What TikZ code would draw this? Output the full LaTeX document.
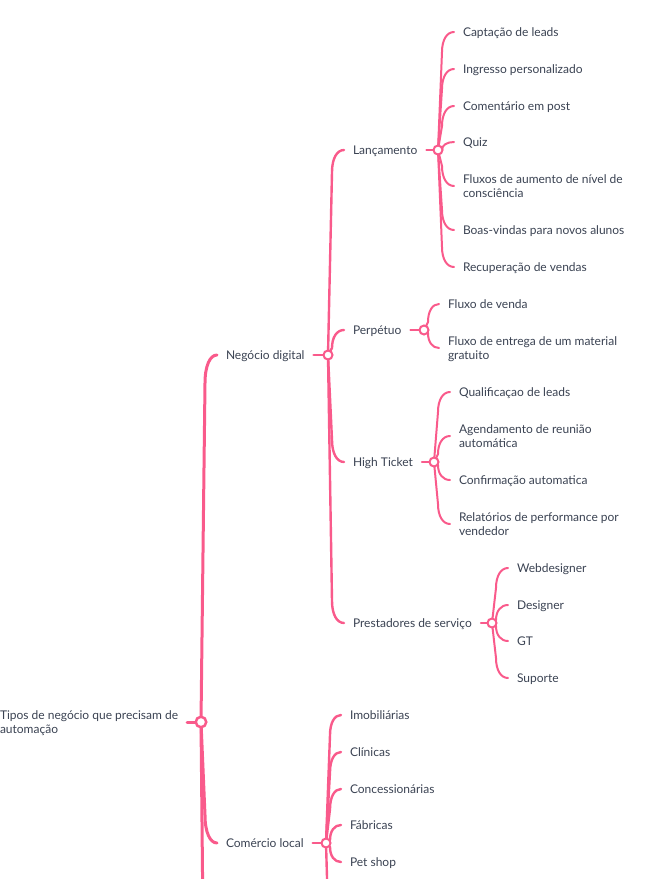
\documentclass[tikz,border=0pt]{standalone}
\usepackage{fontspec}
\setmainfont{Lato}
\usetikzlibrary{calc}
\definecolor{pk}{HTML}{F95A8B}
\definecolor{tx}{HTML}{3A4252}
\pgfdeclarelayer{bg}
\pgfsetlayers{bg,main}
\newcommand\T[1]{\rule[-1pt]{0pt}{11pt}\smash{#1}}
\tikzset{
  lbl/.style={anchor=west, inner sep=0pt, outer xsep=9pt, text=tx,
    font=\fontsize{12}{14}\selectfont, align=left},
  knot/.style={circle, draw=pk, fill=white, line width=2pt, minimum size=9pt, inner sep=0pt},
  rootknot/.style={knot, minimum size=10.5pt, line width=2.5pt},
  br/.style={draw=pk, line cap=round, line join=round},
  wa/.style={line width=3pt},
  wb/.style={line width=2.4pt},
  wc/.style={line width=2pt},
}
% #1 style, #2 parent knot, #3 target point, #4 bend length (signed)
\newcommand\conn[4][]{\draw[br,#1] (#2.center) -- ($(#2.center |- #3)+(4,#4)$)
  .. controls ($(#2.center |- #3)+(4,0.4*#4)$) and ($($(#2.center |- #3)+(4,0)$)!0.4!(#3)$) .. (#3);}
\begin{document}
\begin{tikzpicture}[x=1pt,y=-1pt]
\useasboundingbox (0,0) rectangle (661,879);

% ---------- knots ----------
\node[rootknot] (root) at (201,722) {};
\node[knot] (neg) at (328,355) {};
\node[knot] (com) at (326,843) {};
\node[knot] (lan) at (438,150) {};
\node[knot] (per) at (424,330) {};
\node[knot] (hti) at (434,462) {};
\node[knot] (pre) at (492,623) {};

% ---------- labels ----------
\node[lbl] (root-t) at (-9,722) {\T{Tipos de negócio que precisam de}\\\T{automação}};
\node[lbl] (neg-t) at (217,355) {\T{Negócio digital}};
\node[lbl] (com-t) at (217,843) {\T{Comércio local}};

\node[lbl] (lan-t) at (344,150) {\T{Lançamento}};
\node[lbl] (per-t) at (344,330) {\T{Perpétuo}};
\node[lbl] (hti-t) at (344,462) {\T{High Ticket}};
\node[lbl] (pre-t) at (344,623) {\T{Prestadores de serviço}};

\node[lbl] (cap) at (454,32) {\T{Captação de leads}};
\node[lbl] (ing) at (454,69) {\T{Ingresso personalizado}};
\node[lbl] (cmt) at (454,106) {\T{Comentário em post}};
\node[lbl] (quiz) at (454,142) {\T{Quiz}};
\node[lbl] (flx) at (454,186) {\T{Fluxos de aumento de nível de}\\\T{consciência}};
\node[lbl] (boas) at (454,230) {\T{Boas-vindas para novos alunos}};
\node[lbl] (rec) at (454,267) {\T{Recuperação de vendas}};

\node[lbl] (fv) at (439,304) {\T{Fluxo de venda}};
\node[lbl] (fe) at (439,348) {\T{Fluxo de entrega de um material}\\\T{gratuito}};

\node[lbl] (qual) at (450,392) {\T{Qualificaçao de leads}};
\node[lbl] (agen) at (450,436) {\T{Agendamento de reunião}\\\T{automática}};
\node[lbl] (conf) at (450,480) {\T{Confirmação automatica}};
\node[lbl] (rel) at (450,524) {\T{Relatórios de performance por}\\\T{vendedor}};

\node[lbl] (web) at (508,568) {\T{Webdesigner}};
\node[lbl] (des) at (508,605) {\T{Designer}};
\node[lbl] (gt) at (508,641) {\T{GT}};
\node[lbl] (sup) at (508,678) {\T{Suporte}};

\node[lbl] (imo) at (341,715) {\T{Imobiliárias}};
\node[lbl] (cli) at (341,752) {\T{Clínicas}};
\node[lbl] (con) at (341,789) {\T{Concessionárias}};
\node[lbl] (fab) at (341,825) {\T{Fábricas}};
\node[lbl] (pet) at (341,862) {\T{Pet shop}};

% free ends of branches running below the picture
\coordinate (rootmore) at (216,1150);
\coordinate (commore) at (341,1000);

% ---------- connectors ----------
\begin{pgfonlayer}{bg}
\draw[br,wa] (root-t.east) -- (root.center);
\conn[wa]{root}{neg-t.west}{28}
\conn[wa]{root}{com-t.west}{-28}
\conn[wa]{root}{rootmore}{-28}

\draw[br,wb] (neg-t.east) -- (neg.center);
\conn[wb]{neg}{lan-t.west}{22}
\conn[wb]{neg}{per-t.west}{18}
\conn[wb]{neg}{hti-t.west}{-22}
\conn[wb]{neg}{pre-t.west}{-22}

\draw[br,wb] (com-t.east) -- (com.center);
\conn[wb]{com}{imo.west}{20}
\conn[wb]{com}{cli.west}{20}
\conn[wb]{com}{con.west}{20}
\conn[wb]{com}{fab.west}{15}
\conn[wb]{com}{pet.west}{-15}
\conn[wb]{com}{commore}{-20}

\draw[br,wc] (lan-t.east) -- (lan.center);
\conn[wc]{lan}{cap.west}{20}
\conn[wc]{lan}{ing.west}{20}
\conn[wc]{lan}{cmt.west}{20}
\conn[wc]{lan}{quiz.west}{8}
\conn[wc]{lan}{flx.west}{-20}
\conn[wc]{lan}{boas.west}{-20}
\conn[wc]{lan}{rec.west}{-20}

\draw[br,wc] (per-t.east) -- (per.center);
\conn[wc]{per}{fv.west}{18}
\conn[wc]{per}{fe.west}{-15}

\draw[br,wc] (hti-t.east) -- (hti.center);
\conn[wc]{hti}{qual.west}{20}
\conn[wc]{hti}{agen.west}{18}
\conn[wc]{hti}{conf.west}{-15}
\conn[wc]{hti}{rel.west}{-20}

\draw[br,wc] (pre-t.east) -- (pre.center);
\conn[wc]{pre}{web.west}{20}
\conn[wc]{pre}{des.west}{15}
\conn[wc]{pre}{gt.west}{-15}
\conn[wc]{pre}{sup.west}{-20}
\end{pgfonlayer}
\end{tikzpicture}
\end{document}
